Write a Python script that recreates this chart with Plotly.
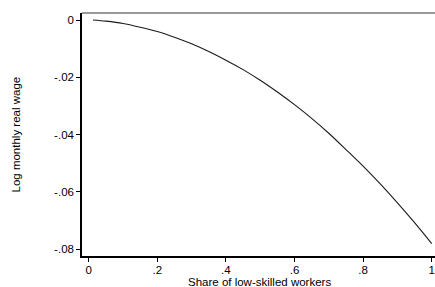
import plotly.graph_objects as go

share_low_skilled = [0.0125, 0.05, 0.1, 0.15, 0.2, 0.25, 0.3, 0.35, 0.4, 0.45, 0.5,
                     0.55, 0.6, 0.65, 0.7, 0.75, 0.8, 0.85, 0.9, 0.95, 1.0]
log_real_wage = [0.0, -0.0004, -0.0012, -0.0025, -0.0040, -0.0060, -0.0083, -0.0110,
                 -0.0140, -0.0173, -0.0210, -0.0251, -0.0295, -0.0343, -0.0395,
                 -0.0452, -0.0510, -0.0572, -0.0638, -0.0707, -0.0780]

x_ticks = [0, 0.2, 0.4, 0.6, 0.8, 1.0]
x_tick_labels = ["0", ".2", ".4", ".6", ".8", "1"]
y_ticks = [0, -0.02, -0.04, -0.06, -0.08]
y_tick_labels = ["0", "-.02", "-.04", "-.06", "-.08"]

font = dict(family="Liberation Sans, Arial, sans-serif", size=11.5, color="#000000")

fig = go.Figure()
fig.add_trace(go.Scatter(x=share_low_skilled, y=log_real_wage, mode="lines",
                         line=dict(color="#1a1a1a", width=1.1, shape="spline",
                                   smoothing=0.8),
                         hoverinfo="skip", showlegend=False))

fig.update_layout(
    width=435, height=287,
    margin=dict(l=82, r=0, t=13, b=31),
    paper_bgcolor="white", plot_bgcolor="white",
    font=font,
    showlegend=False,
    xaxis=dict(range=[-0.0195, 1.0096], tickvals=x_ticks, ticktext=x_tick_labels,
               showgrid=False, zeroline=False, showline=True, linecolor="#000000",
               linewidth=1.5, ticks="outside", ticklen=4, tickcolor="#000000",
               tickwidth=1, tickfont=font, ticklabelstandoff=-2),
    yaxis=dict(range=[-0.08234, 0.00245], tickvals=y_ticks, ticktext=y_tick_labels,
               showgrid=False, zeroline=False, showline=True, linecolor="#000000",
               linewidth=1.5, ticks="outside", ticklen=4, tickcolor="#000000",
               tickwidth=1, tickfont=font),
    shapes=[dict(type="line", xref="paper", yref="paper", x0=0, x1=1.02, y0=1, y1=1,
                 line=dict(color="#999999", width=2))],
    annotations=[
        dict(text="Share of low-skilled workers", xref="paper", yref="paper",
             x=0.504, y=-0.107, xanchor="center", yanchor="middle",
             showarrow=False, font=font),
        dict(text="Log monthly real wage", xref="paper", yref="paper",
             x=-0.187, y=0.5, xanchor="center", yanchor="middle", textangle=-90,
             showarrow=False, font=font),
    ],
)

fig.write_html(
    "out.html",
    config={"displayModeBar": False},
    post_script="document.body.style.margin='0';document.body.style.overflow='hidden';",
)
